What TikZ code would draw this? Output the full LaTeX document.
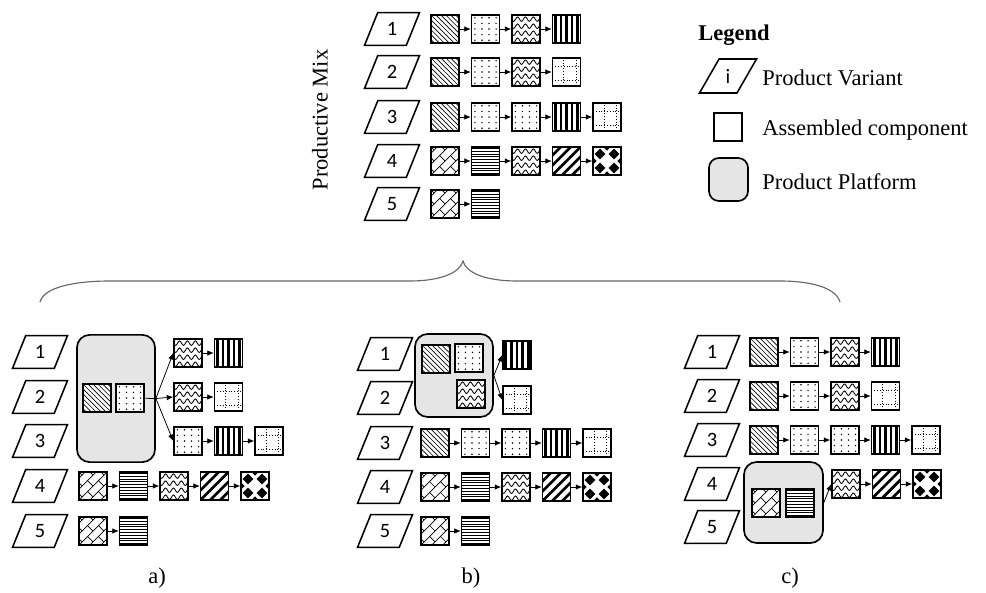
\documentclass[tikz,border=0pt]{standalone}
\usepackage{fontspec}
\setmainfont{Liberation Serif}
\newfontfamily\numfont{Carlito}
\usetikzlibrary{shapes.geometric, arrows.meta, calc}

% fill patterns of the assembled components (drawn inside path picture)
\tikzset{inpic/.style={shift={(path picture bounding box.center)}, x=1pt, y=1pt},
         inrot/.style={shift={(path picture bounding box.center)},
                       x={(0.7071pt,0.7071pt)}, y={(-0.7071pt,0.7071pt)}}}
\newcommand{\patThinDiag}{\foreach \d in {-28,-24.5,...,28}
  \draw[inpic, line width=0.45pt] (\d-12,12) -- (\d+12,-12);}
\newcommand{\patDots}{\foreach \i in {-7.5,-2.5,2.5,7.5} \foreach \j in {-8,-4,...,8}
  \fill[inpic, black] (\i,\j) circle (0.55pt);}
\newcommand{\patWaves}{\foreach \j in {-8,-3,2,7}
  \draw[inpic, line width=0.6pt] (-13,\j) \foreach \k in {1,...,5}
    {sin ++(1.4,1.6) cos ++(1.4,-1.6) sin ++(1.4,-1.6) cos ++(1.4,1.6)};}
\newcommand{\patBars}{\foreach \i in {-8,-4,...,8}
  \fill[inpic, black] (\i-0.9,-12) rectangle (\i+0.9,12);}
\newcommand{\patGrid}{\draw[inpic, line width=0.7pt, dash pattern=on 0.7pt off 1.3pt]
  (-2,-12) -- (-2,12) (7,-12) -- (7,12) (-12,4) -- (12,4) (-12,-6) -- (12,-6);}
\newcommand{\patBricks}{\foreach \k in {-3,...,3} {
  \draw[inrot, line width=0.5pt] (-20,\k*5.5) -- (20,\k*5.5);
  \foreach \j in {-2,...,2}
    \draw[inrot, line width=0.5pt] ({\j*11+mod(\k+10,2)*5.5},\k*5.5) -- ++(0,5.5);}}
\newcommand{\patHoriz}{\foreach \j in {-9,-7,...,9}
  \draw[inpic, line width=0.6pt] (-12,\j) -- (12,\j);}
\newcommand{\patStripes}{\foreach \d in {-21,-14,...,21}
  \draw[inpic, line width=1.9pt] (\d-12,-12) -- (\d+12,12);}
\newcommand{\patDiamonds}{\foreach \i/\j in {-5/-5,5/-5,-5/5,5/5}
  \fill[inpic, black] (\i,\j) +(0,3.8) -- +(3.8,0) -- +(0,-3.8) -- +(-3.8,0) -- cycle;
  \foreach \i/\j in {0/10,0/-10,10/0,-10/0}
  \fill[inpic, black] (\i,\j) +(0,2.6) -- +(2.6,0) -- +(0,-2.6) -- +(-2.6,0) -- cycle;}

% one variant's chain of components, linked by arrows
\newcommand{\comprow}[4]{%
  \foreach [count=\i] \t in {#4} {
    \node[\t] (#1-\i) at ({#2+40.5*(\i-1)},#3) {};
    \ifnum\i>1 \pgfmathtruncatemacro{\h}{\i-1}\draw[link] (#1-\h) -- (#1-\i);\fi}}

\begin{document}
\begin{tikzpicture}[
  x=0.025cm, y=-0.025cm,
  txt/.style={font=\fontsize{16}{19}\selectfont, inner sep=0pt},
  variant/.style={trapezium, trapezium left angle=70, trapezium right angle=110,
                  trapezium stretches=true, draw, line width=1.1pt, inner sep=0pt,
                  minimum width=1.375cm, minimum height=0.82cm,
                  font=\numfont\fontsize{14.5}{17}\selectfont},
  comp/.style={draw, line width=1.1pt, fill=white, minimum size=0.7cm, inner sep=0pt},
  cDiag/.style={comp, path picture={\patThinDiag}},
  cDots/.style={comp, path picture={\patDots}},
  cWave/.style={comp, path picture={\patWaves}},
  cBars/.style={comp, path picture={\patBars}},
  cGrid/.style={comp, path picture={\patGrid}},
  cBrick/.style={comp, path picture={\patBricks}},
  cHoriz/.style={comp, path picture={\patHoriz}},
  cStripe/.style={comp, path picture={\patStripes}},
  cDiam/.style={comp, path picture={\patDiamonds}},
  platform/.style={draw, line width=1.2pt, fill=black!10, rounded corners=9pt},
  link/.style={-{Latex[length=4.6pt, width=4pt]}, line width=0.55pt},
  brace/.style={draw=black!60, line width=0.8pt},
]
\useasboundingbox (0,0) rectangle (986,592);

% ====================== productive mix =================================
\node[txt, rotate=90] (mixlabel) at (320,120) {Productive Mix};
\foreach \r/\y in {1/29,2/72,3/117,4/161,5/204}
  \node[variant] (tv\r) at (392,\y) {\r};
\comprow{t1}{445}{29}{cDiag,cDots,cWave,cBars}
\comprow{t2}{445}{72}{cDiag,cDots,cWave,cGrid}
\comprow{t3}{445}{117}{cDiag,cDots,cDots,cBars,cGrid}
\comprow{t4}{445}{161}{cBrick,cHoriz,cWave,cStripe,cDiam}
\comprow{t5}{445}{204}{cBrick,cHoriz}

% ====================== legend =========================================
\node[txt, font=\fontsize{16}{19}\selectfont\bfseries, anchor=west] (leghead) at (698,35) {Legend};
\node[variant, minimum width=1.425cm, minimum height=0.85cm] (legvar) at (728,76) {i};
\node[txt, anchor=west] (legvartxt) at (762,78) {Product Variant};
\node[comp] (legcomp) at (728,127) {};
\node[txt, anchor=west] (legcomptxt) at (762,130) {Assembled component};
\node[platform, rounded corners=7pt, minimum width=0.975cm, minimum height=1.075cm] (legplat) at (728.5,179.5) {};
\node[txt, anchor=west] (legplattxt) at (762,182) {Product Platform};

% brace
\draw[brace] (40,302) .. controls (44,287) and (75,281) .. (110,281) -- (410,281)
  .. controls (440,281) and (460,273) .. (463,261)
  .. controls (466,273) and (486,281) .. (517,281) -- (780,281)
  .. controls (812,281) and (836,288) .. (840,302);

% ====================== a) platform for variants 1-3 ===================
\foreach \r/\y in {1/352,2/397,3/441,4/486,5/531}
  \node[variant] (av\r) at (40,\y) {\r};
\node[platform, minimum width=1.95cm, minimum height=3.18cm] (aplat) at (116,398.5) {};
\node[cDiag] (aA) at (97,398) {};
\node[cDots] (aB) at (130,398) {};
\comprow{a1}{188}{353}{cWave,cBars}
\comprow{a2}{188}{397}{cWave,cGrid}
\comprow{a3}{188}{441}{cDots,cBars,cGrid}
\draw[line width=0.55pt] (aB) -- (aplat.east);
\foreach \r in {1,2,3} \draw[link] (aplat.east) -- (a\r-1.west);
\comprow{a4}{93}{486}{cBrick,cHoriz,cWave,cStripe,cDiam}
\comprow{a5}{93}{531}{cBrick,cHoriz}
\node[txt] (capa) at (157,578) {a)};

% ====================== b) platform for variants 1-2 ===================
\foreach \r/\y in {1/354,2/398,3/443,4/487,5/531}
  \node[variant] (bv\r) at (385,\y) {\r};
\node[platform, minimum width=1.95cm, minimum height=2.075cm] (bplat) at (454,375.5) {};
\node[cDiag] (bA) at (436,359) {};
\node[cDots] (bB) at (469,358) {};
\node[cWave] (bC) at (471,394) {};
\node[cBars] (b1) at (517,355) {};
\node[cGrid] (b2) at (517,400) {};
\draw[link] (bplat.east) -- (b1.west);
\draw[link] (bplat.east) -- (b2.west);
\comprow{b3}{435}{443}{cDiag,cDots,cDots,cBars,cGrid}
\comprow{b4}{435}{487}{cBrick,cHoriz,cWave,cStripe,cDiam}
\comprow{b5}{435}{531}{cBrick,cHoriz}
\node[txt] (capb) at (471,578) {b)};

% ====================== c) platform for variants 4-5 ===================
\foreach \r/\y in {1/352,2/396,3/440,4/484,5/527}
  \node[variant] (cv\r) at (712,\y) {\r};
\comprow{c1}{764}{352}{cDiag,cDots,cWave,cBars}
\comprow{c2}{764}{396}{cDiag,cDots,cWave,cGrid}
\comprow{c3}{764}{440}{cDiag,cDots,cDots,cBars,cGrid}
\node[platform, minimum width=1.975cm, minimum height=2.025cm] (cplat) at (783.5,502.5) {};
\node[cBrick] (cF) at (766,503) {};
\node[cHoriz] (cG) at (800,503) {};
\comprow{c4}{846}{484}{cWave,cStripe,cDiam}
\draw[link] (cplat.east) -- (c4-1.west);
\node[txt] (capc) at (790,578) {c)};

\end{tikzpicture}
\end{document}
